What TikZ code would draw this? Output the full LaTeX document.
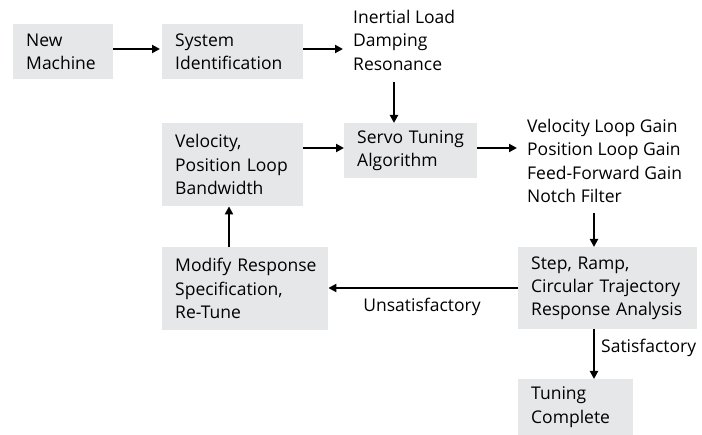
\documentclass[tikz,border=0pt]{standalone}
\usepackage{fontspec}
\setmainfont{Open Sans}
\usetikzlibrary{arrows.meta}
\definecolor{boxgray}{RGB}{230,231,232}
\tikzset{
  x=1pt, y=-1pt,
  txt/.style={font=\fontsize{17.5}{23.4}\selectfont},
  box/.style={txt, fill=boxgray, draw=none, anchor=north west, align=left,
    inner xsep=13pt, inner ysep=0pt},
  plain/.style={txt, anchor=north west, align=left, inner sep=0pt},
  lbl/.style={txt, inner sep=0pt},
  conn/.style={line width=2pt, -{Triangle[length=8pt,width=8pt]}},
}
\begin{document}
\begin{tikzpicture}
\useasboundingbox (0,0) rectangle (702,435);
% boxes
\node[box, text width=74pt, minimum height=55pt] (nm) at (13,24) {New\\Machine};
\node[box, text width=115pt, minimum height=55pt] (si) at (162,24) {System\\Identification};
\node[box, text width=115pt, minimum height=83pt] (vp) at (162,123) {Velocity,\\Position Loop\\Bandwidth};
\node[box, text width=107pt, minimum height=55pt] (st) at (344,123) {Servo Tuning\\Algorithm};
\node[box, text width=140pt, minimum height=83pt] (mr) at (162,247) {\mbox{Modify Response}\\Specification,\\Re-Tune};
\node[box, text width=153pt, minimum height=82pt] (sr) at (518,247) {Step, Ramp,\\Circular Trajectory\\Response Analysis};
\node[box, text width=89pt, minimum height=56pt] (tc) at (518,379) {Tuning\\Complete};
% plain texts
\node[plain] (il) at (353,10) {Inertial Load\\Damping\\Resonance};
\node[plain] (vg) at (527,119) {Velocity Loop Gain\\Position Loop Gain\\Feed-Forward Gain\\Notch Filter};
% connector coordinates
\coordinate (ilbot) at (394,82);
\coordinate (vgbot) at (594,213);
\coordinate (ilin) at (343,49);
\coordinate (vgin) at (517,148);
% connectors
\draw[conn] (nm.east |- 0,49) -- (160,49);
\draw[conn] (si.east |- ilin) -- (ilin);
\draw[conn] (ilbot) -- (ilbot |- st.north);
\draw[conn] (vp.east |- 0,148) -- (st.west |- 0,148);
\draw[conn] (st.east |- vgin) -- (vgin);
\draw[conn] (vgbot) -- (vgbot |- sr.north);
\draw[conn] (sr.west |- 0,288) -- (mr.east |- 0,288);
\draw[conn] (mr.north -| 229,0) -- (vp.south -| 229,0);
\draw[conn] (sr.south -| vgbot) -- (tc.north -| vgbot);
% labels
\node[lbl] (un) at (422,307) {Unsatisfactory};
\node[lbl, anchor=west] (sa) at (601,348) {Satisfactory};
\end{tikzpicture}
\end{document}
